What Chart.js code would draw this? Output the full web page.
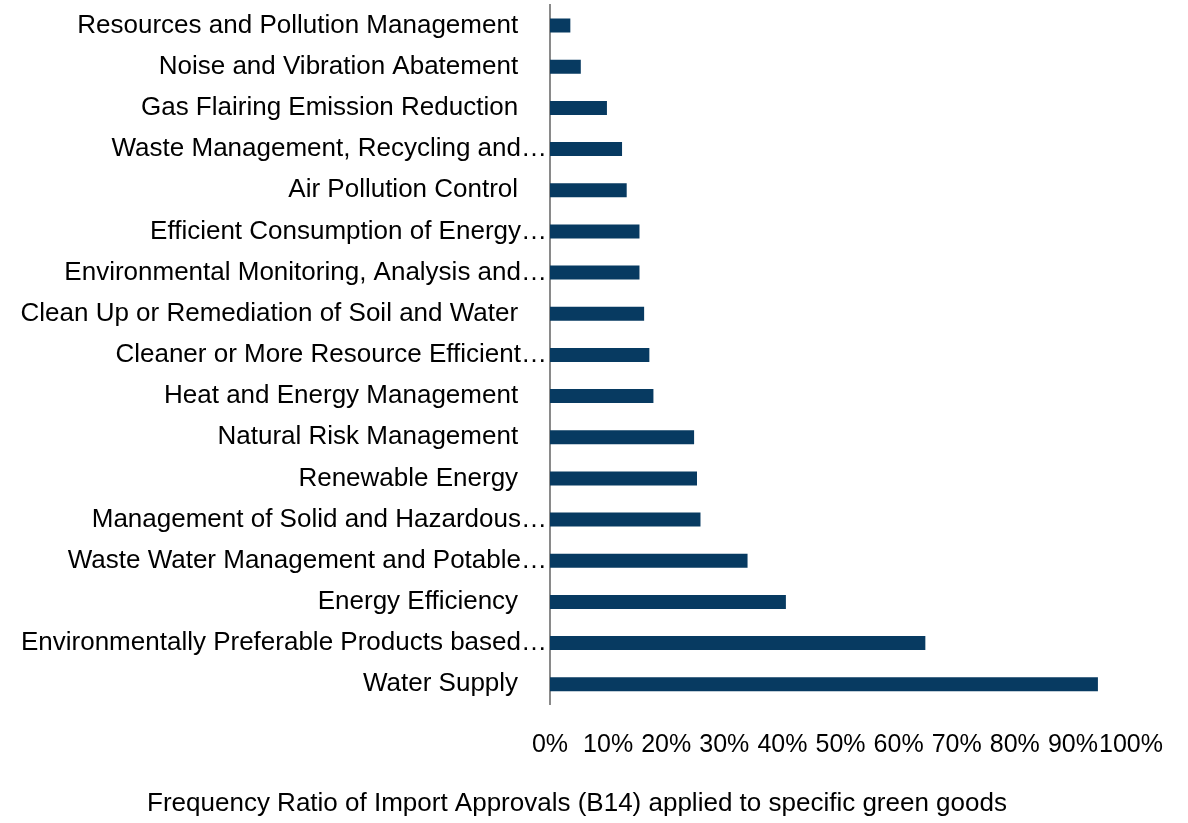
<!DOCTYPE html>
<html>
<head>
<meta charset="utf-8">
<title>Import Approvals (B14) - green goods</title>
<script src="https://cdn.jsdelivr.net/npm/chart.js@4"></script>
<style>
  body { margin: 0; background: #fff; }
</style>
</head>
<body>
<canvas id="my-chart" width="1188" height="823"></canvas>
<script>
const categories = [
  'Resources and Pollution Management',
  'Noise and Vibration Abatement',
  'Gas Flairing Emission Reduction',
  'Waste Management, Recycling and…',
  'Air Pollution Control',
  'Efficient Consumption of Energy…',
  'Environmental Monitoring, Analysis and…',
  'Clean Up or Remediation of Soil and Water',
  'Cleaner or More Resource Efficient…',
  'Heat and Energy Management',
  'Natural Risk Management',
  'Renewable Energy',
  'Management of Solid and Hazardous…',
  'Waste Water Management and Potable…',
  'Energy Efficiency',
  'Environmentally Preferable Products based…',
  'Water Supply'
];

// share of import approvals (%)
const ratioValues = [3.5, 5.3, 9.8, 12.4, 13.2, 15.4, 15.4, 16.2, 17.1, 17.8,
  24.8, 25.3, 25.9, 34.0, 40.6, 64.6, 94.3];

const xTicks = [0, 10, 20, 30, 40, 50, 60, 70, 80, 90, 100];
const axisTitle = 'Frequency Ratio of Import Approvals (B14) applied to specific green goods';

const fontFamily = '"Liberation Sans", Arial, sans-serif';

const ctx = document.getElementById('my-chart').getContext('2d');
const chart = new Chart(ctx, {
  type: 'bar',
  data: {
    labels: categories,
    datasets: [
      {
        label: 'Frequency ratio',
        backgroundColor: '#073a61',
        borderWidth: 0,
        barPercentage: 0.34,
        categoryPercentage: 1,
        data: ratioValues
      }
    ]
  },
  options: {
    indexAxis: 'y',
    responsive: false,
    animation: false,
    // left padding only moves the bottom title a bit to the right
    layout: { padding: { top: 5, right: 54, left: 20, bottom: 0 } },
    plugins: {
      legend: { display: false },
      tooltip: { enabled: false },
      title: {
        display: true,
        position: 'bottom',
        text: axisTitle,
        color: '#000',
        font: { family: fontFamily, size: 26, weight: 'normal' },
        padding: { top: 3, bottom: 4 }
      }
    },
    scales: {
      x: {
        min: 0,
        max: 100,
        afterBuildTicks: scale => {
          scale.ticks = xTicks.map(v => ({ value: v }));
        },
        grid: { display: false, drawTicks: false },
        border: { display: false },
        ticks: {
          autoSkip: false,
          maxRotation: 0,
          minRotation: 0,
          padding: 25,
          color: '#000',
          font: { family: fontFamily, size: 25 },
          callback: v => v + '%'
        }
      },
      y: {
        afterFit: scale => {
          scale.width = 530;
          // no extra room above/below the first and last category
          scale.paddingTop = 0;
          scale.paddingBottom = 0;
        },
        grid: { display: false, drawTicks: false },
        border: { display: true, color: '#8a8a8a', width: 2 },
        ticks: {
          padding: 3,
          color: '#000',
          font: { family: fontFamily, size: 26 },
          callback: function (value) {
            const lbl = this.getLabelForValue(value);
            // labels that are not cut off sit a bit further from the axis
            return lbl.endsWith('…') ? lbl : lbl + '    ';
          }
        }
      }
    }
  }
}); // closes chart
</script>
</body>
</html>
